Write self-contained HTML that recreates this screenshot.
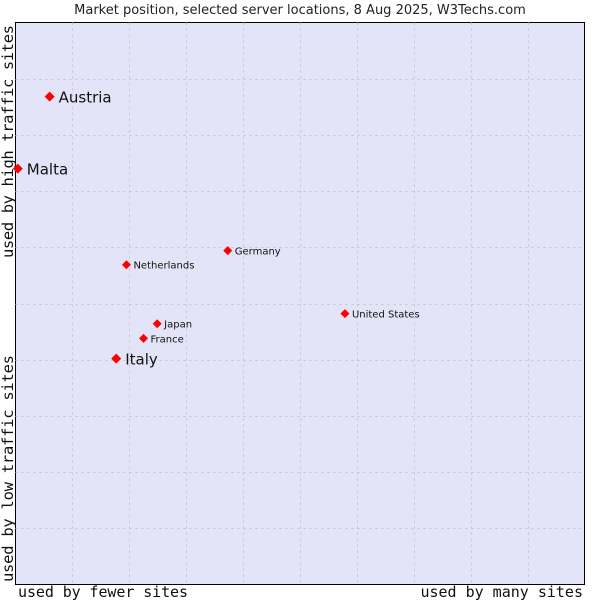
<!DOCTYPE html>
<html><head><meta charset="utf-8"><style>
body{margin:0;background:#fff;width:600px;height:600px;overflow:hidden}
svg{display:block}
</style></head><body>
<svg id="chart" width="600" height="600">
<text x="300" y="14" text-anchor="middle" font-family="DejaVu Sans, sans-serif" font-size="13" fill="#222">Market position, selected server locations, 8 Aug 2025, W3Techs.com</text>
<rect x="15.5" y="22.5" width="569" height="562" fill="#e4e4f8" stroke="#000"/>
<g id="grid"></g>
<g id="points"></g>
<text x="18" y="597" textLength="170" font-family="DejaVu Sans Mono, monospace" font-size="15" fill="#111">used by fewer sites</text>
<text x="583" y="597" text-anchor="end" font-family="DejaVu Sans Mono, monospace" font-size="15" fill="#111">used by many sites</text>
<text transform="translate(13,582) rotate(-90)" textLength="227" font-family="DejaVu Sans Mono, monospace" font-size="15.5" fill="#111">used by low traffic sites</text>
<text transform="translate(13,258) rotate(-90)" textLength="233" font-family="DejaVu Sans Mono, monospace" font-size="15.5" fill="#111">used by high traffic sites</text>
</svg>
<script>
const countries=["Austria","Malta","Germany","Netherlands","United States","Japan","France","Italy"];
const xValues=[0.6,0.04,3.73,1.95,5.79,2.49,2.25,1.77];
const yValues=[8.68,7.4,5.94,5.69,4.82,4.64,4.38,4.02];
const bigLabel=[true,true,false,false,false,false,false,true];
const X0=15.5,X1=584.5,Y0=584.5,Y1=22.5;
const sx=v=>X0+(X1-X0)*v/10, sy=v=>Y0-(Y0-Y1)*v/10;
const NS="http://www.w3.org/2000/svg";
const grid=document.getElementById('grid');
for(let i=1;i<10;i++){
 let l=document.createElementNS(NS,'line');
 
 
 const x=Math.round(sx(i))+0.5;
 l.setAttribute('x1',x);l.setAttribute('x2',x);l.setAttribute('y1',Y1);l.setAttribute('y2',Y0);
 l.setAttribute('stroke','#c4c4c8');l.setAttribute('stroke-dasharray','2,4');grid.appendChild(l);
 let h=document.createElementNS(NS,'line');
 
 
 const y=Math.round(sy(i))+0.5;
 h.setAttribute('x1',X0);h.setAttribute('x2',X1);h.setAttribute('y1',y);h.setAttribute('y2',y);
 h.setAttribute('stroke','#c4c4c8');h.setAttribute('stroke-dasharray','2,4');grid.appendChild(h);
}
const pts=document.getElementById('points');
countries.forEach((c,i)=>{
 const x=sx(xValues[i]),y=sy(yValues[i]);
 const d=document.createElementNS(NS,'path');
 
 
 const r=bigLabel[i]?5:4.5;
 d.setAttribute('d',`M${x-r},${y}L${x},${y-r}L${x+r},${y}L${x},${y+r}Z`);
 d.setAttribute('fill','#f00');pts.appendChild(d);
 const t=document.createElementNS(NS,'text');
 
 
 t.setAttribute('x',x+(bigLabel[i]?9:7));
 t.setAttribute('y',y+(bigLabel[i]?6:4));
 t.setAttribute('font-family','DejaVu Sans, sans-serif');
 t.setAttribute('font-size',bigLabel[i]?'15':'10');
 t.setAttribute('fill','#111');
 t.textContent=c;pts.appendChild(t);
});
</script>
</body></html>
